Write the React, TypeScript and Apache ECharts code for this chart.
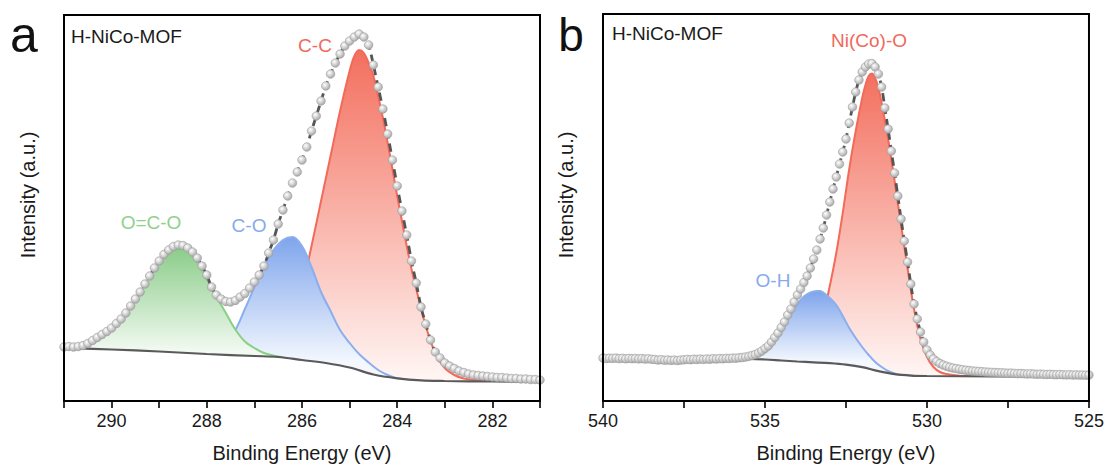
import React, { useEffect, useRef } from "react";
import * as echarts from "echarts";

const FONT = "'Liberation Sans', Arial, Helvetica, sans-serif";

// ---------- Panel a : C 1s ----------
const aTicksLabelled = [282, 284, 286, 288, 290];
const aMeasured: [number, number][] = [
  [291.0, 54], [290.9, 54.5], [290.8, 54], [290.7, 54.5], [290.6, 55.5], [290.5, 57.5], [290.4, 60.5], [290.3, 63.5],
  [290.2, 66.5], [290.1, 69.5], [290.0, 73], [289.9, 77.5], [289.8, 82], [289.7, 88], [289.6, 95], [289.5, 102],
  [289.4, 109], [289.3, 117], [289.2, 125], [289.1, 133], [289.0, 140], [288.9, 146.5], [288.8, 151], [288.7, 154.5],
  [288.6, 156], [288.5, 155.5], [288.4, 153], [288.3, 149], [288.2, 143], [288.1, 135], [288.0, 126], [287.9, 114],
  [287.8, 106], [287.7, 102], [287.6, 99.5], [287.5, 99], [287.4, 100.5], [287.3, 104], [287.2, 107.5], [287.1, 113],
  [287.0, 119], [286.9, 126], [286.8, 135], [286.7, 148], [286.6, 161], [286.5, 177], [286.4, 191], [286.3, 205],
  [286.2, 218], [286.1, 229], [286.0, 241], [285.9, 254], [285.8, 270], [285.7, 285], [285.6, 300], [285.5, 315],
  [285.4, 327], [285.3, 338], [285.2, 347], [285.1, 355], [285.0, 360], [284.9, 364], [284.8, 367], [284.7, 364],
  [284.6, 356], [284.5, 336], [284.4, 314], [284.3, 292], [284.2, 267], [284.1, 241], [284.0, 215], [283.9, 190],
  [283.8, 166], [283.7, 140], [283.6, 118], [283.5, 94], [283.4, 77], [283.3, 61], [283.2, 49], [283.1, 43],
  [283.0, 38], [282.9, 35], [282.8, 32.5], [282.7, 30], [282.6, 28.5], [282.5, 27], [282.4, 26], [282.3, 25.5],
  [282.2, 25], [282.1, 24.5], [282.0, 24], [281.9, 23.5], [281.8, 23.5], [281.7, 23], [281.6, 22.5], [281.5, 22.5],
  [281.4, 22], [281.3, 22], [281.2, 21.5], [281.1, 21.5], [281.0, 21],
];
const aBackground: [number, number][] = [
  [291, 53], [290, 51.5], [289, 49.5], [288, 47], [287, 45], [286.5, 44], [286, 41], [285.5, 38],
  [285, 33.5], [284.5, 26.5], [284, 22.7], [283.5, 20.6], [283, 20], [282, 19.5], [281, 19.3],
];
const aPeakOCO: [number, number][] = [
  [291, 53], [290.6, 53.5], [290.4, 58], [290.2, 66], [290.0, 72], [289.8, 82], [289.6, 95], [289.4, 109],
  [289.2, 125], [289.0, 140], [288.8, 150.5], [288.6, 156], [288.4, 151], [288.2, 138], [288.0, 121.5],
  [287.8, 104.5], [287.6, 88], [287.4, 71.5], [287.2, 59.5], [287.0, 53], [286.8, 48], [286.5, 44.5],
  [286.2, 41.5], [286.0, 41],
];
const aPeakCO: [number, number][] = [
  [288.8, 49.5], [288.4, 48.5], [288.0, 49], [287.8, 52], [287.6, 59], [287.4, 71], [287.2, 92], [287.0, 114],
  [286.8, 136], [286.6, 151], [286.4, 161], [286.2, 164], [286.0, 155], [285.8, 134], [285.6, 109], [285.4, 90],
  [285.2, 71], [285.0, 58], [284.8, 47], [284.6, 38.5], [284.4, 31], [284.2, 26], [284.0, 22.7], [283.6, 20.6],
];
const aPeakCC: [number, number][] = [
  [287.0, 48], [286.8, 50], [286.6, 56], [286.4, 66], [286.2, 84], [286.0, 112], [285.8, 155], [285.6, 200],
  [285.4, 245], [285.2, 290], [285.0, 330], [284.9, 345], [284.8, 351], [284.7, 348], [284.6, 338], [284.5, 325],
  [284.4, 305], [284.3, 283], [284.2, 258], [284.1, 232], [284.0, 205], [283.9, 180], [283.8, 155], [283.7, 132],
  [283.6, 112], [283.4, 75], [283.2, 48], [283.0, 33], [282.8, 26], [282.6, 22.5], [282.4, 21], [282.0, 19.7],
  [281.0, 19.3],
];

// ---------- Panel b : O 1s ----------
const bTicksLabelled = [525, 530, 535, 540];
const bMeasured: [number, number][] = [
  [540.0, 43], [539.9, 42.5], [539.8, 42.8], [539.7, 42.6], [539.6, 42.9], [539.5, 42.4], [539.4, 42.7], [539.3, 42.2],
  [539.2, 42.6], [539.1, 42.3], [539.0, 42.5], [538.9, 42.1], [538.8, 42.4], [538.7, 41.9], [538.6, 42.2], [538.5, 41.7],
  [538.4, 41.5], [538.3, 41.0], [538.2, 41.3], [538.1, 40.8], [538.0, 41.0], [537.9, 40.6], [537.8, 40.9], [537.7, 40.5],
  [537.6, 40.9], [537.5, 41.2], [537.4, 41.6], [537.3, 41.3], [537.2, 41.8], [537.1, 41.5], [537.0, 41.9], [536.9, 41.6],
  [536.8, 42.0], [536.7, 41.8], [536.6, 42.2], [536.5, 42.0], [536.4, 42.4], [536.3, 42.2], [536.2, 42.6], [536.1, 42.5],
  [536.0, 42.9], [535.9, 42.8], [535.8, 43.2], [535.7, 43.5], [535.6, 44.0], [535.5, 44.6], [535.4, 45.5], [535.3, 46.5],
  [535.2, 48], [535.1, 50], [535.0, 52.5], [534.9, 55], [534.8, 59], [534.7, 63.5], [534.6, 68], [534.5, 73.5],
  [534.4, 79], [534.3, 86], [534.2, 92], [534.1, 99], [534.0, 106], [533.9, 112], [533.8, 118.5], [533.7, 125],
  [533.6, 133], [533.5, 142], [533.4, 151], [533.3, 162], [533.2, 173], [533.1, 186], [533.0, 199], [532.9, 212],
  [532.8, 224], [532.7, 237], [532.6, 249], [532.5, 262], [532.4, 278], [532.3, 294], [532.2, 309], [532.1, 321],
  [532.0, 329], [531.9, 334], [531.8, 337], [531.7, 337.5], [531.6, 334], [531.5, 327], [531.4, 314], [531.3, 293],
  [531.2, 272], [531.1, 250], [531.0, 228], [530.9, 205], [530.8, 182], [530.7, 160], [530.6, 139], [530.5, 117],
  [530.4, 97], [530.3, 82], [530.2, 69], [530.1, 59], [530.0, 51], [529.9, 46], [529.8, 42], [529.7, 39.5],
  [529.6, 37.5], [529.5, 36], [529.4, 34.8], [529.3, 33.8], [529.2, 33], [529.1, 32.4], [529.0, 31.8], [528.9, 31.3],
  [528.8, 30.8], [528.7, 30.4], [528.6, 30], [528.5, 29.8], [528.4, 29.5], [528.3, 29.3], [528.2, 29], [528.1, 28.8],
  [528.0, 28.6], [527.9, 28.5], [527.8, 28.3], [527.7, 28.2], [527.6, 28.0], [527.5, 27.8], [527.4, 27.9], [527.3, 27.6],
  [527.2, 27.4], [527.1, 27.5], [527.0, 27.2], [526.9, 27.0], [526.8, 27.2], [526.7, 26.9], [526.6, 26.7], [526.5, 26.9],
  [526.4, 26.6], [526.3, 26.5], [526.2, 26.7], [526.1, 26.4], [526.0, 26.3], [525.9, 26.5], [525.8, 26.2], [525.7, 26.1],
  [525.6, 26.3], [525.5, 26.0], [525.4, 26.1], [525.3, 25.9], [525.2, 26.0], [525.1, 25.8], [525.0, 26.0],
];
const bBackground: [number, number][] = [
  [540, 42.7], [537, 42.3], [535.5, 42], [535, 41.5], [534.5, 40.5], [534, 39.5], [533.5, 38.7], [533, 37.8],
  [532.5, 36.3], [532, 33.8], [531.5, 29.8], [531, 26.8], [530.5, 25.4], [530, 25], [528, 24.6], [525, 24.3],
];
const bPeakOH: [number, number][] = [
  [536.0, 42.5], [535.6, 43], [535.4, 44], [535.2, 47], [535.0, 51.5], [534.8, 58], [534.6, 66], [534.4, 76],
  [534.2, 87], [534.0, 97], [533.8, 104.5], [533.6, 108.5], [533.4, 110], [533.3, 110], [533.2, 108.5],
  [533.0, 103], [532.8, 96], [532.6, 85], [532.4, 73], [532.2, 63], [532.0, 54], [531.8, 46], [531.6, 39],
  [531.4, 34], [531.2, 30], [531.0, 27.5], [530.8, 26], [530.4, 25.3],
];
const bPeakNiO: [number, number][] = [
  [534.6, 41], [534.2, 40.5], [533.8, 42], [533.6, 48], [533.4, 62], [533.2, 86], [533.0, 115], [532.8, 148],
  [532.6, 188], [532.4, 232], [532.2, 270], [532.0, 303], [531.9, 316], [531.8, 325], [531.7, 327.5], [531.6, 323],
  [531.5, 313], [531.4, 298], [531.2, 262], [531.0, 220], [530.8, 176], [530.6, 133], [530.4, 92], [530.2, 62],
  [530.0, 44], [529.8, 34], [529.6, 29], [529.4, 27], [529.0, 25.3], [528.5, 24.8],
];

const RED_LINE = "#F26A59";
const BLUE_LINE = "#8AAEEE";
const GREEN_LINE = "#8ACF86";

function grad(y1: number, y2: number, top: string, bottom: string) {
  return new echarts.graphic.LinearGradient(0, y1, 0, y2, [
    { offset: 0, color: top },
    { offset: 1, color: bottom },
  ], true);
}

function peak(data: [number, number][], gi: number, line: string, fill: any, z: number) {
  return {
    type: "line", xAxisIndex: gi, yAxisIndex: gi, data, smooth: 0.35, symbol: "none", z,
    lineStyle: { color: line, width: 2 },
    areaStyle: { color: fill, opacity: 1 },
  };
}

function background(data: [number, number][], gi: number) {
  return {
    type: "line", xAxisIndex: gi, yAxisIndex: gi, data, smooth: 0.35, symbol: "none", z: 6,
    lineStyle: { color: "#5a5a5a", width: 2.2 },
    areaStyle: { color: "#ffffff", opacity: 1 },
  };
}

function fit(data: [number, number][], gi: number) {
  return {
    type: "line", xAxisIndex: gi, yAxisIndex: gi, data, smooth: 0.3, symbol: "none", z: 7,
    lineStyle: { color: "#555555", width: 2.8, type: [8, 5] },
  };
}

function points(data: [number, number][], gi: number) {
  return {
    type: "scatter", xAxisIndex: gi, yAxisIndex: gi, data, symbol: "circle", symbolSize: 8.5, z: 8,
    itemStyle: {
      color: {
        type: "radial", x: 0.38, y: 0.35, r: 0.7,
        colorStops: [{ offset: 0, color: "#ffffff" }, { offset: 1, color: "#a4a4a4" }],
      },
      borderColor: "#9c9c9c", borderWidth: 0.6, opacity: 1,
    },
  };
}

function xAxis(gi: number, min: number, max: number, interval: number, labelled: number[]) {
  return {
    type: "value", gridIndex: gi, inverse: true, min, max, interval,
    axisLine: { show: false },
    axisTick: { show: true, length: 7, lineStyle: { color: "#000", width: 1.6 } },
    splitLine: { show: false },
    axisLabel: {
      margin: 11, fontSize: 18, color: "#1a1a1a", fontFamily: FONT,
      formatter: (v: number) => (labelled.indexOf(v) >= 0 ? String(v) : ""),
    },
    name: "Binding Energy (eV)", nameLocation: "middle", nameGap: 42,
    nameTextStyle: { fontSize: 20, color: "#1a1a1a", fontFamily: FONT },
  };
}

function yAxis(gi: number, max: number) {
  return {
    type: "value", gridIndex: gi, min: 0, max,
    axisLine: { show: false }, axisTick: { show: false }, axisLabel: { show: false }, splitLine: { show: false },
  };
}

function txt(text: string, x: number, y: number, size: number, color: string, align = "center", rotation = 0) {
  return {
    type: "text", x, y, rotation, z: 20,
    style: {
      text, fill: color, fontSize: size, fontFamily: FONT,
      align, verticalAlign: "middle", textAlign: align, textVerticalAlign: "middle",
    },
  };
}

export default function App() {
  const ref = useRef<HTMLDivElement>(null);
  useEffect(() => {
    const chart = echarts.init(ref.current!, null, { renderer: "svg" });
    const option = {
      animation: false,
      backgroundColor: "#ffffff",
      grid: [
        { left: 64, top: 15, width: 476, height: 386, show: true, borderColor: "#000", borderWidth: 2, z: 15 },
        { left: 603, top: 14, width: 487, height: 387, show: true, borderColor: "#000", borderWidth: 2, z: 15 },
      ],
      xAxis: [xAxis(0, 281, 291, 1, aTicksLabelled), xAxis(1, 525, 540, 2.5, bTicksLabelled)],
      yAxis: [yAxis(0, 386), yAxis(1, 387)],
      series: [
        peak(aPeakCC, 0, RED_LINE, grad(50, 380, "#F36F5E", "#FFF6F4"), 2),
        peak(aPeakCO, 0, BLUE_LINE, grad(236, 362, "#7EA4EC", "#F4F8FE"), 3),
        peak(aPeakOCO, 0, GREEN_LINE, grad(245, 352, "#88CB86", "#F3FAF2"), 4),
        background(aBackground, 0),
        fit(aMeasured, 0),
        points(aMeasured, 0),
        peak(bPeakNiO, 1, RED_LINE, grad(73, 376, "#F36F5E", "#FFF6F4"), 2),
        peak(bPeakOH, 1, BLUE_LINE, grad(291, 362, "#7EA4EC", "#F4F8FE"), 3),
        background(bBackground, 1),
        fit(bMeasured, 1),
        points(bMeasured, 1),
      ],
      graphic: [
        txt("a", 24, 35, 50, "#111"),
        txt("b", 571, 35, 46, "#111"),
        txt("H-NiCo-MOF", 71, 36, 19, "#1a1a1a", "left"),
        txt("H-NiCo-MOF", 612, 33, 19, "#1a1a1a", "left"),
        txt("C-C", 315, 45, 19, "#F0695A"),
        txt("O=C-O", 151, 222, 19, "#8FD18B"),
        txt("C-O", 249, 225, 19, "#86AAEC"),
        txt("Ni(Co)-O", 869, 40, 19, "#F0695A"),
        txt("O-H", 773, 280, 19, "#86AAEC"),
        txt("Intensity (a.u.)", 28, 195, 20, "#1a1a1a", "center", Math.PI / 2),
        txt("Intensity (a.u.)", 566, 195, 20, "#1a1a1a", "center", Math.PI / 2),
      ],
    };
    chart.setOption(option as any);
    return () => chart.dispose();
  }, []);
  return (
    <div
      ref={ref}
      style={{ position: "fixed", left: 0, top: 0, width: 1107, height: 470, background: "#fff" }}
    />
  );
}
